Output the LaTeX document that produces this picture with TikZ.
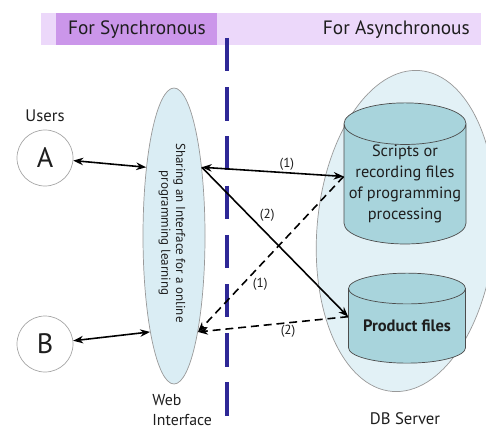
\documentclass[tikz,border=0pt]{standalone}
\usepackage{fontspec}
\setmainfont{PT Sans}
\usetikzlibrary{shapes.geometric, arrows.meta, positioning}

\definecolor{syncpurple}{RGB}{203,150,234}
\definecolor{asyncpurple}{RGB}{236,216,250}
\definecolor{dividerblue}{RGB}{46,40,150}
\definecolor{webfill}{RGB}{218,237,244}
\definecolor{serverfill}{RGB}{226,241,246}
\definecolor{diskfill}{RGB}{168,212,220}
\definecolor{ink}{RGB}{30,30,30}

\begin{document}
\begin{tikzpicture}[
    x=0.2mm, y=-0.2mm,
    text=ink,
    band/.style={rectangle, anchor=north west, minimum height=6.4mm, inner sep=0pt, font=\fontsize{11}{13}\selectfont},
    user/.style={circle, draw=gray!70, minimum size=11.2mm, inner sep=0pt, font=\fontsize{16}{18}\selectfont},
    disk/.style={cylinder, shape border rotate=90, draw=gray!60!black, fill=diskfill, align=center, inner sep=0pt},
    tip/.tip={Stealth[length=2mm, width=1.5mm]},
    both/.style={tip-tip, line width=0.9pt},
    oneway/.style={-tip, line width=0.9pt},
    backway/.style={-tip, line width=0.9pt, dash pattern=on 4.5pt off 2.8pt},
    tag/.style={font=\fontsize{7.5}{9}\selectfont, inner sep=1pt},
]
\useasboundingbox (0,0) rectangle (486,428);
\clip (0,0) rectangle (486,428);

% header bands
\node[band, fill=asyncpurple, minimum width=88mm] (asyncband) at (41,13) {};
\node[band, fill=syncpurple, minimum width=32.2mm] (syncband) at (56,13) {For Synchronous};
\node[anchor=east, font=\fontsize{11}{13}\selectfont] (asynctext) at (476,30) {For Asynchronous};

% divider between the two sides
\coordinate (divtop) at (227,38);
\coordinate (divbot) at (227,432);
\draw[dividerblue, line width=2.3pt, dash pattern=on 19pt off 9pt] (divtop) -- (divbot);

% users
\node[user] (usera) at (45,158) {A};
\node[user] (userb) at (45,344) {B};
\node[above=0.4mm of usera, font=\fontsize{9.5}{11}\selectfont] (users) {Users};

% web interface
\node[ellipse, draw=gray!80, fill=webfill, minimum width=12.4mm, minimum height=59.2mm, inner sep=0pt] (web) at (174,236) {};
\node[rotate=-90, align=center, font=\fontsize{7.4}{8.5}\selectfont] (webtext) at (172,233) {Sharing an Interface for a online\\programming learning};
\node[anchor=north west, align=left, inner sep=0pt, font=\fontsize{9}{11.3}\selectfont] (weblabel) at (152,394) {Web\\Interface};

% DB server
\node[ellipse, draw=gray!80, fill=serverfill, rotate=-5, minimum width=35.6mm, minimum height=64.4mm, inner sep=0pt] (server) at (406,231) {};
\node[font=\fontsize{9.5}{11}\selectfont] (serverlabel) at (405,419) {DB Server};
\node[disk, aspect=0.37, minimum width=24.4mm, minimum height=24mm, font=\fontsize{9.3}{12}\selectfont] (scripts) at (405,184) {Scripts or\\recording files\\of programming\\processing};
\node[disk, aspect=0.35, minimum width=23.4mm, minimum height=18mm, font=\bfseries\fontsize{9.4}{11}\selectfont] (product) at (407,326) {Product files};

% connectors
\draw[both] (usera) -- (web.112);
\draw[both] (userb) -- (web.-104);
\draw[both] (web.68) -- node[tag, pos=0.6, above] {(1)} (scripts.173);
\draw[oneway] (web.68) -- node[tag, pos=0.38, above right] {(2)} (product.171);
\draw[backway] (scripts.173) -- node[tag, pos=0.64, below right] {(1)} (web.-76);
\draw[backway] (product.171) -- node[tag, pos=0.4, below] {(2)} (web.-76);
\end{tikzpicture}
\end{document}
